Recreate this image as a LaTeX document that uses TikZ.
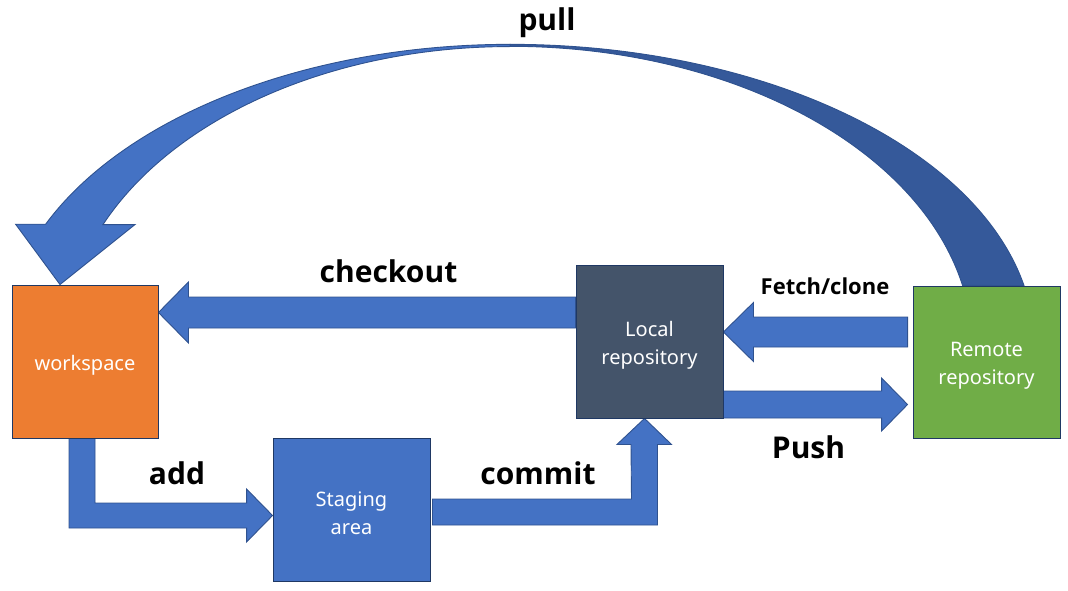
\documentclass[tikz,border=0pt]{standalone}
\usepackage{fontspec}
\setmainfont{Noto Sans}
\newfontfamily\lblfont{Open Sans}
\usetikzlibrary{calc}
\definecolor{arrowblue}{HTML}{4472C4}
\definecolor{arrowline}{HTML}{2F528F}
\definecolor{pulldark}{HTML}{35599A}
\definecolor{wsorange}{HTML}{ED7D31}
\definecolor{localgray}{HTML}{44546A}
\definecolor{remotegreen}{HTML}{70AD47}
\definecolor{boxline}{HTML}{1F3864}
\pgfdeclarelayer{bg}
\pgfsetlayers{bg,main}
\begin{document}
\begin{tikzpicture}[x=1pt,y=-1pt,
  box/.style={draw=boxline,line width=0.9pt,inner sep=0pt},
  boxtext/.style={inner sep=0pt,text=white,align=center,font=\fontsize{20}{28}\selectfont},
  barrow/.style={fill=arrowblue,draw=arrowline,line width=0.9pt,line join=miter},
  lbl/.style={anchor=base,inner sep=0pt,font=\lblfont\bfseries\fontsize{30}{36}\selectfont},
  smalllbl/.style={anchor=base,inner sep=0pt,font=\lblfont\bfseries\fontsize{22}{26}\selectfont}
]
\useasboundingbox (0,0) rectangle (1068,590);

% boxes
\node[box,fill=wsorange,minimum width=146pt,minimum height=153pt] (ws) at (85,361.5) {};
\node[box,fill=arrowblue,minimum width=157pt,minimum height=143pt] (st) at (351.5,509.5) {};
\node[box,fill=localgray,minimum width=147pt,minimum height=153pt] (lo) at (649.5,341.5) {};
\node[box,fill=remotegreen,minimum width=147pt,minimum height=152pt] (re) at (986.5,362) {};
\node[boxtext] (wst) at ($(ws.center)+(0,4)$) {workspace};
\node[boxtext] (stt) at ($(st.center)+(0,4)$) {Staging\\area};
\node[boxtext] (lot) at ($(lo.center)+(0,4)$) {Local\\repository};
\node[boxtext] (ret) at ($(re.center)+(0,4)$) {Remote\\repository};

% labels
\node[lbl] (lpull) at (547,30) {pull};
\node[lbl] (lcheck) at (388.5,282) {checkout};
\node[smalllbl] (lfetch) at (825,294) {Fetch/clone};
\node[lbl] (lpush) at (808.5,458) {Push};
\node[lbl] (ladd) at (177,484) {add};
\node[lbl] (lcommit) at (538,484) {commit};

\begin{pgfonlayer}{bg}
% checkout
\coordinate (coY) at (0,312.5);
\draw[barrow] ($(lo.west |- coY)+(0,-15.5)$) -- ($(ws.east |- coY)+(30,-15.5)$) -- ++(0,-15)
  -- (ws.east |- coY) -- ++(30,30.5) -- ++(0,-15) -- ($(lo.west |- coY)+(0,15.5)$) -- cycle;
% fetch/clone
\coordinate (fY) at (0,332);
\draw[barrow] ($(re.west |- fY)+(-5,-15)$) -- ($(lo.east |- fY)+(30,-15)$) -- ++(0,-14.5)
  -- (lo.east |- fY) -- ++(30,29.5) -- ++(0,-14.5) -- ($(re.west |- fY)+(-5,15)$) -- cycle;
% push
\coordinate (pY) at (0,404.5);
\draw[barrow] ($(lo.east |- pY)+(0,-13.5)$) -- ($(re.west |- pY)+(-31,-13.5)$) -- ++(0,-13)
  -- ($(re.west |- pY)+(-5,0)$) -- ++(-26,26.5) -- ++(0,-13) -- ($(lo.east |- pY)+(0,13.5)$) -- cycle;
% add
\coordinate (aL) at ($(ws.south)+(-16,0)$);
\coordinate (aR) at ($(ws.south)+(10,0)$);
\coordinate (aT) at ($(st.west)+(0,6)$);
\draw[barrow] (aL) -- ($(aL |- aT)+(0,12.5)$) -- ($(aT)+(-26,12.5)$) -- ++(0,14) -- (aT)
  -- ++(-26,-26.5) -- ++(0,14) -- ($(aR |- aT)+(0,-12.5)$) -- (aR) -- cycle;
% commit
\coordinate (cT) at ($(lo.south)+(-5,0)$);
\coordinate (cY) at (0,512);
\draw[barrow] ($(st.east |- cY)+(2,-13)$) -- ($(st.east |- cY)+(2,13)$) -- ($(cT |- cY)+(13,13)$)
  -- ($(cT)+(13,26)$) -- ++(14,0) -- (cT) -- ++(-27.5,26) -- ++(14,0) -- ($(cT |- cY)+(-13,-13)$) -- cycle;
% pull
\coordinate (pRo) at ($(re.north)+(37.5,0)$);
\coordinate (pTip) at ($(ws.north)+(-25,0)$);
\draw[fill=pulldark,draw=arrowline,line width=0.9pt,line join=miter]
  (pRo) arc[start angle=-11.3,end angle=-90,x radius=524,y radius=300] coordinate (pTo)
  -- ++(0,2) coordinate (pTi) arc[start angle=-90,end angle=-11.73,x radius=462,y radius=300] -- cycle;
\draw[fill=arrowblue,draw=arrowline,line width=0.9pt,line join=miter]
  (pTo) arc[start angle=-90,end angle=-156.4,x radius=507,y radius=300] -- ++(-30,0)
  -- (pTip) -- ++(75,-60) -- ++(-32,0) arc[start angle=-156,end angle=-90,x radius=445,y radius=300]
  -- (pTi) -- cycle;
\end{pgfonlayer}
\end{tikzpicture}
\end{document}
